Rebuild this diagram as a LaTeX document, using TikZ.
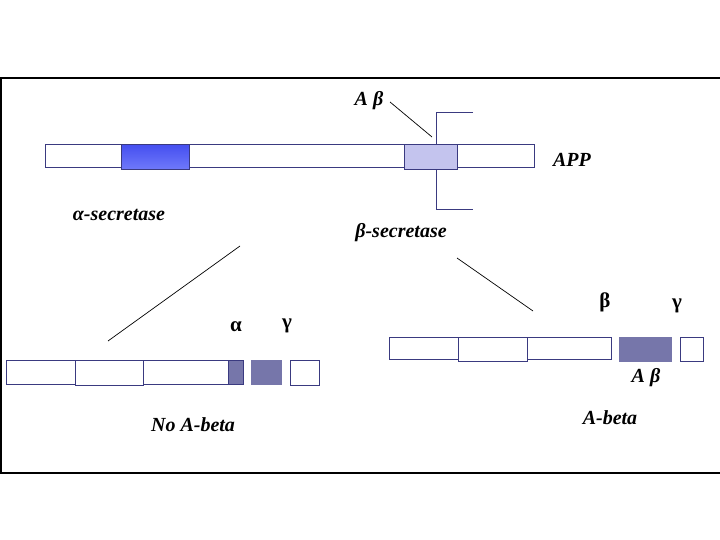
\documentclass[tikz,border=0pt]{standalone}
\usepackage{fontspec}
\setmainfont{Liberation Serif}
\definecolor{navy}{RGB}{58,58,128}
\definecolor{lav}{RGB}{196,196,238}
\definecolor{hatch}{RGB}{118,118,170}
\tikzset{
  seg/.style={draw=navy, line width=1pt, fill=white, inner sep=0pt, outer sep=0pt, anchor=north west},
  lbl/.style={font=\fontsize{20}{22}\selectfont\bfseries\itshape, inner sep=0pt},
  greek/.style={font=\fontsize{21}{23}\selectfont\bfseries, inner sep=0pt},
  cut/.style={draw=black, line width=0.7pt},
  brk/.style={draw=navy, line width=1pt}
}
\begin{document}
\begin{tikzpicture}[x=1pt,y=-1pt]
\useasboundingbox (0,0) rectangle (720,540);
\draw[line width=1.3pt] (720,78) -- (1,78) -- (1,473) -- (720,473);
% APP bar
\node[seg, minimum width=489pt, minimum height=23pt] (app) at (45,145) {};
\node[seg, top color={rgb,255:red,70;green,80;blue,240}, bottom color={rgb,255:red,112;green,122;blue,250}, minimum width=68pt, minimum height=25pt] (alphab) at (121,145) {};
\node[seg, fill=lav, minimum width=53pt, minimum height=25pt] (abbox) at (404,145) {};
% bracket
\coordinate (bt) at (436,145);
\coordinate (bb) at (436,170);
\coordinate (btr) at (473,113);
\coordinate (bbr) at (473,210);
\draw[brk] (btr) -| (bt);
\draw[brk] (bb) |- (bbr);
% labels top
\node[lbl] (ab1) at (369,101) {A \textit{β}};
\coordinate (abend) at (432,137);
\draw[cut] (390,102) -- (abend);
\node[lbl] (applbl) at (572,160) {APP};
\node[lbl] (asec) at (119,215) {α-secretase};
\node[lbl] (bsec) at (401,233) {β-secretase};
% cut lines
\coordinate (l1a) at (240,246);
\coordinate (l1b) at (108,341);
\draw[cut] (l1a) -- (l1b);
\coordinate (l2a) at (457,258);
\coordinate (l2b) at (533,311);
\draw[cut] (l2a) -- (l2b);
% left products
\node[greek] (alab) at (236,327) {α};
\node[greek] (glab1) at (287,326) {γ};
\node[seg, minimum width=69pt, minimum height=24pt] (a1) at (6,360) {};
\node[seg, minimum width=68pt, minimum height=25pt] (a2) at (75,360) {};
\node[seg, minimum width=85pt, minimum height=24pt] (a3) at (143,360) {};
\node[seg, fill=hatch, minimum width=15pt, minimum height=24pt] (a4) at (228,360) {};
\node[seg, draw=none, fill=hatch, minimum width=31pt, minimum height=25pt] (a5) at (251,360) {};
\node[seg, minimum width=29pt, minimum height=25pt] (a6) at (290,360) {};
\node[lbl] (noab) at (193,425) {No A-beta};
% right products
\node[greek] (blab) at (605,302) {β};
\node[greek] (glab2) at (677,306) {γ};
\node[seg, minimum width=69pt, minimum height=22pt] (b1) at (389,337) {};
\node[seg, minimum width=69pt, minimum height=24pt] (b2) at (458,337) {};
\node[seg, minimum width=84pt, minimum height=22pt] (b3) at (527,337) {};
\node[seg, draw=none, fill=hatch, minimum width=53pt, minimum height=25pt] (b4) at (619,337) {};
\node[seg, minimum width=23pt, minimum height=24pt] (b5) at (680,337) {};
\node[lbl] (ab2) at (646,378) {A \textit{β}};
\node[lbl] (abeta) at (610,418) {A-beta};
\end{tikzpicture}
\end{document}
